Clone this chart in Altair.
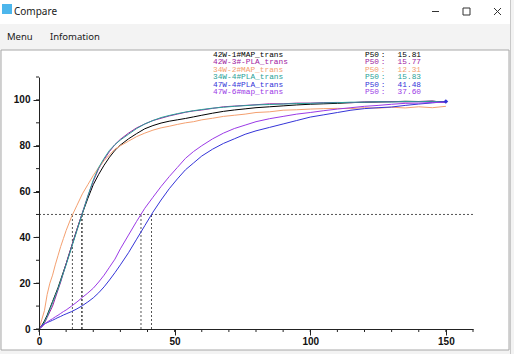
import altair as alt
import pandas as pd

# ---------------- data ----------------
X = [0, 1, 2, 3, 4, 5, 6, 7, 8, 9, 10, 12, 14, 16, 18, 20, 22, 24, 26, 28, 30,
     33, 36, 39, 42, 45, 48, 51, 54, 57, 60, 64, 68, 72, 76, 80, 85, 90, 95,
     100, 105, 110, 115, 120, 125, 130, 135, 140, 145, 150]

s_black = [0, 1.5, 3.5, 6, 9, 12, 15, 18, 21.5, 25, 28.5, 36, 43.5, 50.5, 57, 63, 67.5, 71.5, 75, 78, 80.3,
           83, 85.3, 87.4, 88.8, 89.9, 90.7, 91.3, 91.9, 92.6, 93.3, 94.2, 95, 95.6, 96.1, 96.6, 97, 97.4, 97.8,
           98.1, 98.3, 98.5, 98.8, 99, 99.1, 99.2, 99.4, 99.3, 99.4, 99.1]
s_magenta = [0, 0.8, 2.5, 5, 7.5, 10, 13.5, 17, 20.5, 24.5, 28.5, 36, 43.5, 50.8, 58, 64.5, 70, 74, 77.5, 80.5, 82.8,
             85.5, 87.8, 89.5, 91, 92, 93, 93.8, 94.6, 95.2, 95.6, 96.3, 97, 97.3, 97.6, 97.9, 98.3, 98.3, 98.6,
             98.6, 98.8, 98.9, 98.8, 99.1, 99.2, 99.3, 99.1, 99.3, 99.5, 98.8]
s_orange = [0, 4, 8, 15, 20, 23.5, 28, 32, 36, 39.5, 43, 49, 54, 59, 63, 67, 70.5, 73.5, 76, 78.5, 80,
            82, 84, 85.5, 86.8, 87.8, 88.5, 89.3, 90, 90.5, 91.3, 92, 92.8, 93.3, 93.8, 94.5, 94.8, 95.5, 95.7,
            96, 96.2, 96.3, 96.2, 96.6, 96.4, 96.8, 96.5, 97, 96.6, 97.2]
s_teal = [0, 1, 3, 5.5, 8.5, 11.5, 14.5, 17.5, 21, 24.5, 28, 35.5, 43, 50.5, 58, 65, 70.5, 74.5, 78, 80.5, 82.5,
          85, 87.5, 89.5, 91, 92.3, 93.2, 94, 94.7, 95.3, 95.8, 96.4, 96.8, 97.2, 97.5, 97.8, 98, 98.2, 98.4,
          98.5, 98.7, 98.8, 99, 99, 99.2, 99.1, 99.3, 99.2, 99.4, 99]
s_blue = [0, 1.5, 2.2, 2.8, 3.3, 3.8, 4.4, 5, 5.5, 6.1, 6.6, 7.6, 8.8, 10.2, 11.8, 13.6, 15.8, 18.4, 21.4, 24.6, 28,
          33.3, 39.2, 45.1, 51, 56.3, 61.2, 65.5, 69.5, 72.5, 75.5, 78.5, 81, 83, 85, 86.5, 88, 89.5, 91,
          92.5, 93.5, 94.5, 95.5, 96.2, 96.6, 96.9, 97.6, 98.2, 98.7, 99.3]
s_violet = [0, 1, 2, 3, 3.8, 4.5, 5.3, 6, 6.8, 7.6, 8.3, 10, 11.8, 13.8, 15.7, 17.8, 20.5, 23.5, 27, 30.5, 35,
            41, 47, 52.7, 57.5, 62.2, 66.5, 70.5, 74.5, 77.5, 80, 83, 85.5, 87.5, 89, 90.5, 91.8, 92.8, 93.8,
            94.5, 95.3, 96, 96.6, 97.2, 97.6, 98.1, 98.5, 98.6, 98.9, 99]

names = ["42W-1#MAP_trans", "42W-3#-PLA_trans", "34W-2#MAP_trans",
         "34W-4#PLA_trans", "47W-4#PLA_trans", "47W-6#map_trans"]
p50 = [15.81, 15.77, 12.31, 15.83, 41.48, 37.60]
series = [s_black, s_magenta, s_orange, s_teal, s_blue, s_violet]
colors = ["#000000", "#a0209f", "#f4a070", "#2aa198", "#3434d8", "#9b3ae6"]

x_labels = [0, 50, 100, 150]
y_labels = [0, 20, 40, 60, 80, 100]
x_minor = list(range(0, 161, 10))
y_minor = list(range(0, 111, 10))

# ---------------- tables ----------------
rows = []
for n, s in zip(names, series):
    for xv, yv in zip(X, s):
        rows.append({"x": xv, "y": yv, "series": n})
df = pd.DataFrame(rows)

leg = pd.DataFrame({"series": names, "p50": p50, "i": list(range(len(names)))})
leg["p50txt"] = leg["p50"].map(lambda v: f"{v:.2f}")
end_pt = pd.DataFrame({"x": [X[-1]], "y": [s_blue[-1]], "series": [names[4]]})
xt = pd.DataFrame({"t": x_minor})
yt = pd.DataFrame({"t": y_minor})

# ---------------- layout ----------------
PX0, PY0 = 39, 77          # plot origin inside the 514x354 window
W, H = 434, 252

xscale = alt.Scale(domain=[0, 160], nice=False, zero=False)
yscale = alt.Scale(domain=[0, 110], nice=False, zero=False)
cscale = alt.Scale(domain=names, range=colors)

ax_common = dict(grid=False, domainColor="#222222", tickColor="#222222",
                 labelFont="Liberation Sans", labelFontWeight="bold",
                 labelFontSize=10, labelColor="#111111", title=None, zindex=5,
                 labelOverlap=False, labelFlush=False, tickSize=6)

xaxis = alt.Axis(values=x_labels, labelPadding=1, **ax_common)
yaxis = alt.Axis(values=y_labels, labelPadding=3, **ax_common)

one = alt.Data(values=[{"k": 1}])


def box(x1, y1, x2, y2, **kw):
    return alt.Chart(one).mark_rect(**kw).encode(
        x=alt.value(x1 - PX0), x2=alt.value(x2 - PX0),
        y=alt.value(y1 - PY0), y2=alt.value(y2 - PY0))


def seg(x1, y1, x2, y2, **kw):
    return alt.Chart(one).mark_rule(**kw).encode(
        x=alt.value(x1 - PX0), x2=alt.value(x2 - PX0),
        y=alt.value(y1 - PY0), y2=alt.value(y2 - PY0))


def label(txt, x, y, **kw):
    return alt.Chart(one).mark_text(text=txt, align="left", baseline="middle", **kw).encode(
        x=alt.value(x - PX0), y=alt.value(y - PY0))


# window chrome
title_bar = box(0, 0, 510, 24, fill="#ffffff")
icon = box(2, 4, 12, 14, fill="#4db6ec")
panel = box(1, 50, 509, 350, fill="#ffffff", stroke="#a8a8a8", strokeWidth=1)
edge = seg(510.5, 0, 510.5, 354, color="#c8c8c8")
minimize = seg(432, 11.5, 439, 11.5, color="#333333")
maximize = box(463, 8, 470, 15, fill="none", stroke="#333333", strokeWidth=1)
close1 = seg(494, 8, 501, 15, color="#333333")
close2 = seg(494, 15, 501, 8, color="#333333")
t_compare = label("Compare", 14, 11.5, font="Noto Sans", fontSize=10, color="#1a1a1a")
t_menu = label("Menu", 7, 37, font="Noto Sans", fontSize=9.5, color="#1a1a1a")
t_info = label("Infomation", 50, 37, font="Noto Sans", fontSize=9.5, color="#1a1a1a")

# minor ticks (every 10 units)
xminor = alt.Chart(xt).mark_rule(color="#222222", strokeWidth=1).encode(
    x=alt.X("t:Q", scale=xscale, title=None), y=alt.value(H), y2=alt.value(H + 3))
yminor = alt.Chart(yt).mark_rule(color="#222222", strokeWidth=1).encode(
    y=alt.Y("t:Q", scale=yscale, title=None), x=alt.value(-3), x2=alt.value(0))

# data layers
lines = alt.Chart(df).mark_line(strokeWidth=1, clip=True).encode(
    x=alt.X("x:Q", scale=xscale, axis=xaxis),
    y=alt.Y("y:Q", scale=yscale, axis=yaxis),
    color=alt.Color("series:N", scale=cscale, legend=None),
    detail="series:N",
    order="x:Q",
)

hline = alt.Chart(one).mark_rule(strokeDash=[2, 2], color="#555555", strokeWidth=1).encode(
    y=alt.YDatum(datum=50, scale=yscale, title=None),
    x=alt.XDatum(datum=0, scale=xscale, title=None),
    x2=alt.X2Datum(datum=160),
)

vlines = alt.Chart(leg).mark_rule(strokeDash=[2, 2], color="#555555", strokeWidth=1).encode(
    x=alt.X("p50:Q", scale=xscale, title=None),
    y=alt.YDatum(datum=0, scale=yscale, title=None),
    y2=alt.Y2Datum(datum=50),
)

endmark = alt.Chart(end_pt).mark_point(filled=True, size=22, shape="diamond", opacity=1).encode(
    x=alt.X("x:Q", scale=xscale, title=None),
    y=alt.Y("y:Q", scale=yscale, title=None),
    color=alt.Color("series:N", scale=cscale, legend=None),
)

# legend block (text)
leg_base = alt.Chart(leg).transform_calculate(ly=f"55 - {PY0} + 7.45 * datum.i")
leg_font = dict(font="Liberation Mono", fontSize=7.8, baseline="middle")
leg_names = leg_base.mark_text(align="left", **leg_font).encode(
    x=alt.value(213 - PX0), y=alt.Y("ly:Q", scale=None),
    text="series:N", color=alt.Color("series:N", scale=cscale, legend=None))
leg_p = leg_base.mark_text(align="left", text="P50", **leg_font).encode(
    x=alt.value(365 - PX0), y=alt.Y("ly:Q", scale=None),
    color=alt.Color("series:N", scale=cscale, legend=None))
leg_c = leg_base.mark_text(align="center", text=":", **leg_font).encode(
    x=alt.value(383 - PX0), y=alt.Y("ly:Q", scale=None),
    color=alt.Color("series:N", scale=cscale, legend=None))
leg_v = leg_base.mark_text(align="right", **leg_font).encode(
    x=alt.value(421 - PX0), y=alt.Y("ly:Q", scale=None),
    text="p50txt:N", color=alt.Color("series:N", scale=cscale, legend=None))

chart = alt.layer(
    title_bar, icon, panel, edge, minimize, maximize, close1, close2,
    t_compare, t_menu, t_info,
    xminor, yminor,
    hline, vlines, lines, endmark,
    leg_names, leg_p, leg_c, leg_v,
).properties(
    width=W, height=H,
    padding={"left": PX0, "top": PY0, "right": 514 - PX0 - W, "bottom": 354 - PY0 - H},
    autosize=alt.AutoSizeParams(type="none"),
    background="#f3f3f3",
).configure_view(strokeWidth=0).configure_axis(labelOverlap=False)

chart.save("out.html", embed_options={"renderer": "svg", "actions": False})
